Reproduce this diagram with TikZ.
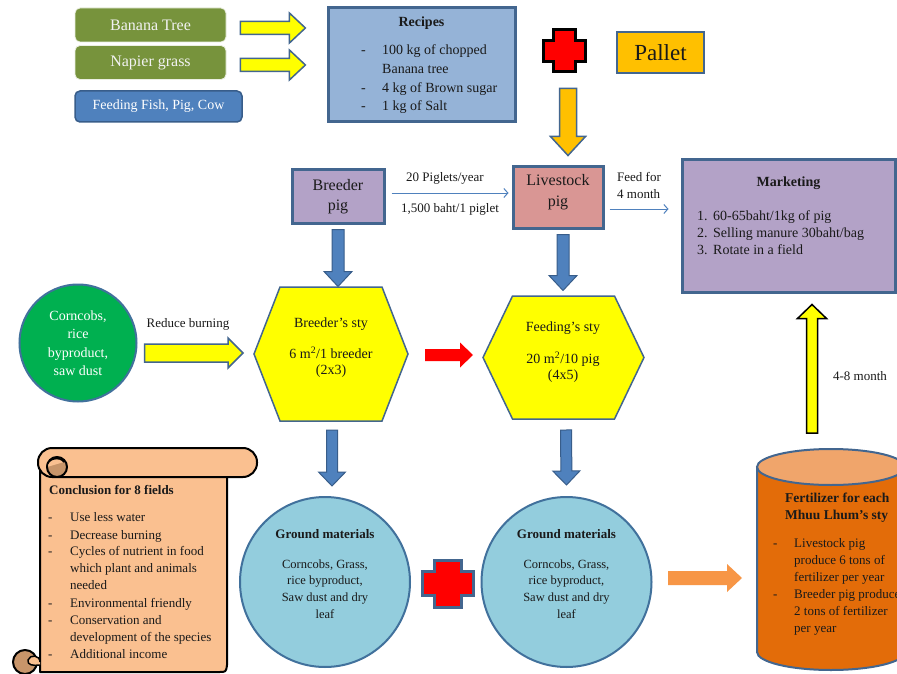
\documentclass[tikz,border=0pt]{standalone}
\usepackage{fontspec}
\setmainfont{Liberation Serif}
\usetikzlibrary{calc,arrows.meta}
\definecolor{cOlive}{HTML}{77933C}
\definecolor{cFblue}{HTML}{4F81BD}
\definecolor{cFblueD}{HTML}{385D8A}
\definecolor{cBord}{HTML}{43668F}
\definecolor{cRec}{HTML}{95B3D7}
\definecolor{cPurp}{HTML}{B3A2C7}
\definecolor{cPink}{HTML}{D99694}
\definecolor{cGold}{HTML}{FFC000}
\definecolor{cGreen}{HTML}{00B050}
\definecolor{cCircB}{HTML}{41719C}
\definecolor{cLtBlue}{HTML}{93CDDD}
\definecolor{cOrng}{HTML}{E36C09}
\definecolor{cOrngT}{HTML}{F0A56B}
\definecolor{cLOrng}{HTML}{F79646}
\definecolor{cScr}{HTML}{FAC090}
\definecolor{cScrD}{HTML}{C8956A}
\definecolor{cTxt}{HTML}{1A1A1A}
\definecolor{cYel}{HTML}{FFFF00}
\newcommand\fsz[2]{\fontsize{#1}{#2}\selectfont}
\newcommand\blockarrow[6][]{%
  \coordinate (ba-s) at (#2);
  \coordinate (ba-e) at (#3);
  \coordinate (ba-h) at ($(ba-e)!#6!(ba-s)$);
  \path[#1] ($(ba-s)!#4!90:(ba-e)$) -- ($(ba-h)!#4!-90:(ba-s)$) -- ($(ba-h)!#5!-90:(ba-s)$) -- (ba-e) -- ($(ba-h)!#5!90:(ba-s)$) -- ($(ba-h)!#4!90:(ba-s)$) -- ($(ba-s)!#4!-90:(ba-e)$) -- cycle;}
\newcommand\plusshape[6][]{%
  \begin{scope}[shift={(#2)}]
  \path[#1] (-#5,-#4) -- (#5,-#4) -- (#5,-#6) -- (#3,-#6) -- (#3,#6) -- (#5,#6) -- (#5,#4) -- (-#5,#4) -- (-#5,#6) -- (-#3,#6) -- (-#3,-#6) -- (-#5,-#6) -- cycle;
  \end{scope}}
\newcommand\hexshape[5][]{%
  \begin{scope}[shift={(#2)}]
  \path[#1] (-#3,0) -- (-#4,-#5) -- (#4,-#5) -- (#3,0) -- (#4,#5) -- (-#4,#5) -- cycle;
  \end{scope}}
\begin{document}
\begin{tikzpicture}[x=1pt,y=-1pt,
  t/.style={inner sep=0pt, text=cTxt, anchor=mid},
  tw/.style={inner sep=0pt, text=cTxt, anchor=mid west},
  gbox/.style={rectangle, rounded corners=5pt, fill=cOlive, draw=white!85!cOlive, line width=0.8pt, minimum width=151pt, minimum height=34pt, text=white!95!black, font=\fsz{16}{19}},
  fbox/.style={rectangle, rounded corners=5pt, fill=cFblue, draw=cFblueD, line width=1.5pt, minimum width=167pt, minimum height=31pt, text=white, font=\fsz{14}{17}},
  sqbox/.style={rectangle, draw=cBord, line width=3pt, inner sep=0pt, text=cTxt},
  yarrow/.style={fill=cYel, draw=cBord, line width=1.5pt, line join=miter},
  barrow/.style={fill=cFblue, draw=cFblueD, line width=1pt},
  thinarr/.style={draw=cFblue, line width=1pt, -{Straight Barb[length=4pt,width=9pt]}},
  hexst/.style={fill=cYel, draw=cBord, line width=1.5pt},
  gmcirc/.style={circle, fill=cLtBlue, draw=cCircB, line width=2pt, minimum size=170pt, inner sep=0pt},
  scrollst/.style={fill=cScr, draw=black, line width=2pt, line join=round}
]
\clip (0,0) rectangle (897,674);
\fill[white] (0,0) rectangle (897,674);

% top-left boxes
\node[gbox] (banana) at (150.5,25) {Banana Tree};
\node[gbox] (napier) at (150.5,62.5) {Napier grass};
\node[fbox] (feed) at (158.5,106.5) {Feeding Fish, Pig, Cow};

\coordinate (ya1s) at ($(banana.east)+(14,3)$);
\coordinate (ya1e) at ($(banana.east)+(79,3)$);
\coordinate (ya2s) at ($(napier.east)+(14,2.5)$);
\coordinate (ya2e) at ($(napier.east)+(79,2.5)$);
\blockarrow[yarrow]{ya1s}{ya1e}{6.5pt}{15pt}{16pt}
\blockarrow[yarrow]{ya2s}{ya2e}{6.5pt}{15pt}{16pt}

% recipes
\node[sqbox, fill=cRec, minimum width=187pt, minimum height=114pt] (recipes) at (421.5,65) {};
\node[t, font=\bfseries\fsz{14}{17}] (rectitle) at (421.5,24) {Recipes};
\node[tw, font=\fsz{14}{17}] (r1d) at (361,52) {-};
\node[tw, font=\fsz{14}{17}] (r1) at (382,52) {100 kg of chopped};
\node[tw, font=\fsz{14}{17}] (r1b) at (382,71) {Banana tree};
\node[tw, font=\fsz{14}{17}] (r2d) at (361,90) {-};
\node[tw, font=\fsz{14}{17}] (r2) at (382,90) {4 kg of Brown sugar};
\node[tw, font=\fsz{14}{17}] (r3d) at (361,108) {-};
\node[tw, font=\fsz{14}{17}] (r3) at (382,108) {1 kg of Salt};

% plus and pallet
\coordinate (plus1) at (564,51);
\plusshape[fill=red, draw=black, line width=3pt]{plus1}{21}{21}{11}{10.5}
\node[sqbox, fill=cGold, line width=2.5pt, minimum width=87pt, minimum height=41pt, font=\fsz{23}{26}] (pallet) at (660.5,52.5) {Pallet};

% pigs
\node[sqbox, fill=cPurp, minimum width=92pt, minimum height=53pt, align=center, font=\fsz{16}{20}] (bpig) at (338,196.5) {Breeder\\pig};
\node[sqbox, fill=cPink, minimum width=90pt, minimum height=61pt] (lpig) at (558,197.5) {};
\node[t, anchor=center, align=center, font=\fsz{16}{21}] (lpigt) at (558,192.5) {Livestock\\pig};

\coordinate (oas) at ($(lpig.north)+(10,-77)$);
\coordinate (oae) at ($(lpig.north)+(10,-10)$);
\blockarrow[fill=cGold, draw=cBord, line width=1.5pt]{oas}{oae}{8.5pt}{17.5pt}{19pt}

\draw[thinarr] ($(bpig.east)+(6,-3.5)$) -- ($(lpig.west)+(-3,-4.5)$);
\node[t, font=\fsz{13}{16}] (lab1) at (445,179) {20 Piglets/year};
\node[t, font=\fsz{13}{16}] (lab2) at (450,210) {1,500 baht/1 piglet};

% marketing
\node[sqbox, fill=cPurp, minimum width=213pt, minimum height=132pt] (market) at (788.5,226) {};
\draw[thinarr] ($(lpig.east)+(5,11.5)$) -- ($(market.west)+(-12,-17)$);
\node[tw, font=\fsz{13}{16}] (lab3) at (617,179) {Feed for};
\node[tw, font=\fsz{13}{16}] (lab4) at (617,196) {4 month};
\node[t, font=\bfseries\fsz{14}{17}] (mtitle) at (788.5,184) {Marketing};
\node[tw, font=\fsz{14}{17}] (m1n) at (697,218) {1.};
\node[tw, font=\fsz{14}{17}] (m1) at (713,218) {60-65baht/1kg of pig};
\node[tw, font=\fsz{14}{17}] (m2n) at (697,235) {2.};
\node[tw, font=\fsz{14}{17}] (m2) at (713,235) {Selling manure 30baht/bag};
\node[tw, font=\fsz{14}{17}] (m3n) at (697,252) {3.};
\node[tw, font=\fsz{14}{17}] (m3) at (713,252) {Rotate in a field};

% green circle
\node[circle, fill=cGreen, draw=cCircB, line width=2pt, minimum size=117pt, inner sep=0pt, text=white, align=center, font=\fsz{14}{18.5}] (corn) at (78,343) {Corncobs,\\rice\\byproduct,\\saw dust};
\node[t, font=\fsz{13}{16}] (redburn) at (188,325) {Reduce burning};

% hexagons
\coordinate (hex1) at (331,354);
\coordinate (hex2) at (563.5,357.5);
\hexshape[hexst]{hex1}{77}{51}{67}
\hexshape[hexst]{hex2}{80.5}{51}{61.5}
\node[t, font=\fsz{14}{17}] (h1a) at (331,325) {Breeder’s sty};
\node[t, font=\fsz{14}{17}] (h1b) at (331,356) {6 m\textsuperscript{2}/1 breeder};
\node[t, font=\fsz{14}{17}] (h1c) at (331,372) {(2x3)};
\node[t, font=\fsz{14}{17}] (h2a) at (563,329) {Feeding’s sty};
\node[t, font=\fsz{14}{17}] (h2b) at (563,361) {20 m\textsuperscript{2}/10 pig};
\node[t, font=\fsz{14}{17}] (h2c) at (563,377) {(4x5)};

\coordinate (ya3s) at ($(corn.east)+(7,10)$);
\coordinate (ya3e) at ($(hex1)+(-88,-1)$);
\blockarrow[yarrow]{ya3s}{ya3e}{9pt}{15pt}{15pt}

\coordinate (ras) at ($(hex1)+(94,1)$);
\coordinate (rae) at ($(hex2)+(-90.5,-2.5)$);
\blockarrow[fill=red]{ras}{rae}{6pt}{12.5pt}{13pt}

\coordinate (b1s) at ($(bpig.south)+(0,5)$);
\coordinate (b1e) at ($(bpig.south)+(0,62)$);
\blockarrow[barrow]{b1s}{b1e}{6pt}{14pt}{15pt}
\coordinate (b2s) at ($(lpig.south)+(5,5)$);
\coordinate (b2e) at ($(lpig.south)+(5,61)$);
\blockarrow[barrow]{b2s}{b2e}{6pt}{14pt}{15pt}

% ground materials
\node[gmcirc] (gm1) at (325,582) {};
\node[gmcirc] (gm2) at (566.5,582) {};
\coordinate (b3s) at ($(hex1)+(1,76)$);
\coordinate (b3e) at ($(gm1.north)+(7,-10)$);
\blockarrow[barrow]{b3s}{b3e}{5.5pt}{13.5pt}{14pt}
\coordinate (b4s) at ($(hex2)+(2.5,72.5)$);
\coordinate (b4e) at ($(gm2.north)+(0,-11)$);
\blockarrow[barrow]{b4s}{b4e}{5.5pt}{13.5pt}{14pt}
\node[t, font=\bfseries\fsz{13}{16}] (g1t) at (325,536) {Ground materials};
\node[t, anchor=center, align=center, font=\fsz{12.5}{16.8}] (g1b) at (325,589) {Corncobs, Grass,\\rice byproduct,\\Saw dust and dry\\leaf};
\node[t, font=\bfseries\fsz{13}{16}] (g2t) at (566.5,536) {Ground materials};
\node[t, anchor=center, align=center, font=\fsz{12.5}{16.8}] (g2b) at (566.5,589) {Corncobs, Grass,\\rice byproduct,\\Saw dust and dry\\leaf};
\coordinate (plus2) at (447.5,583.5);
\plusshape[fill=red, draw=cBord, line width=3pt]{plus2}{25.5}{23.5}{13.5}{12}

\coordinate (oa2s) at ($(gm2.east)+(15.5,-4)$);
\coordinate (oa2e) at ($(gm2.east)+(89.5,-4)$);
\blockarrow[fill=cLOrng]{oa2s}{oa2e}{7pt}{14pt}{15pt}

% cylinder
\coordinate (cyl) at (831,467);
\path[fill=cOrng, draw=cBord, line width=2pt] (757,467) -- (757,652) arc[start angle=180, end angle=360, x radius=74pt, y radius=18pt] -- (905,467) -- cycle;
\draw[fill=cOrngT, draw=cBord, line width=2pt] (cyl) ellipse [x radius=74pt, y radius=18pt];
\node[tw, font=\bfseries\fsz{13.5}{16}] (c1) at (785,500) {Fertilizer for each};
\node[tw, font=\bfseries\fsz{13.5}{16}] (c2) at (785,517) {Mhuu Lhum’s sty};
\node[tw, font=\fsz{13}{16}] (c3d) at (773,545) {-};
\node[tw, font=\fsz{13}{16}] (c3) at (794,545) {Livestock pig};
\node[tw, font=\fsz{13}{16}] (c4) at (794,562) {produce 6 tons of};
\node[tw, font=\fsz{13}{16}] (c5) at (794,579) {fertilizer per year};
\node[tw, font=\fsz{13}{16}] (c6d) at (773,596) {-};
\node[tw, font=\fsz{13}{16}] (c6) at (794,596) {Breeder pig produce};
\node[tw, font=\fsz{13}{16}] (c7) at (794,613) {2 tons of fertilizer};
\node[tw, font=\fsz{13}{16}] (c8) at (794,630) {per year};

\coordinate (yus) at (812,433);
\coordinate (yue) at ($(market.south)+(23.5,11)$);
\blockarrow[fill=cYel, draw=black, line width=1.5pt]{yus}{yue}{5.5pt}{14.5pt}{14pt}
\node[t, font=\fsz{13}{16}] (m48) at (860,378) {4-8 month};

% scroll
\draw[scrollst, fill=cScrD] (25,662) circle (12pt);
\draw[scrollst] (40,470) -- (40,672) -- (219,672) .. controls (226,672) .. (227,665) -- (227,470) -- cycle;
\draw[scrollst, line width=1.5pt] (40,662) .. controls (40,655) and (30,654) .. (28,660) .. controls (27,665) and (33,666) .. (40,665);
\draw[scrollst, rounded corners=14pt] (38,448) rectangle (257,477);
\draw[scrollst, fill=cScrD] (57,467) circle (10pt);
\draw[scrollst, line width=1.5pt] (47,467) .. controls (47,458) and (60,456) .. (64,462);
\node[tw, font=\bfseries\fsz{13}{16}] (sct) at (49,492) {Conclusion for 8 fields};
\node[tw, font=\fsz{13}{16}] (s1d) at (48,519) {-};
\node[tw, font=\fsz{13}{16}] (s1) at (70,519) {Use less water};
\node[tw, font=\fsz{13}{16}] (s2d) at (48,537) {-};
\node[tw, font=\fsz{13}{16}] (s2) at (70,537) {Decrease burning};
\node[tw, font=\fsz{13}{16}] (s3d) at (48,553) {-};
\node[tw, font=\fsz{13}{16}] (s3) at (70,553) {Cycles of nutrient in food};
\node[tw, font=\fsz{13}{16}] (s3b) at (70,570) {which plant and animals};
\node[tw, font=\fsz{13}{16}] (s3c) at (70,587) {needed};
\node[tw, font=\fsz{13}{16}] (s4d) at (48,605) {-};
\node[tw, font=\fsz{13}{16}] (s4) at (70,605) {Environmental friendly};
\node[tw, font=\fsz{13}{16}] (s5d) at (48,622) {-};
\node[tw, font=\fsz{13}{16}] (s5) at (70,622) {Conservation and};
\node[tw, font=\fsz{13}{16}] (s5b) at (70,639) {development of the species};
\node[tw, font=\fsz{13}{16}] (s6d) at (48,656) {-};
\node[tw, font=\fsz{13}{16}] (s6) at (70,656) {Additional income};
\end{tikzpicture}
\end{document}
